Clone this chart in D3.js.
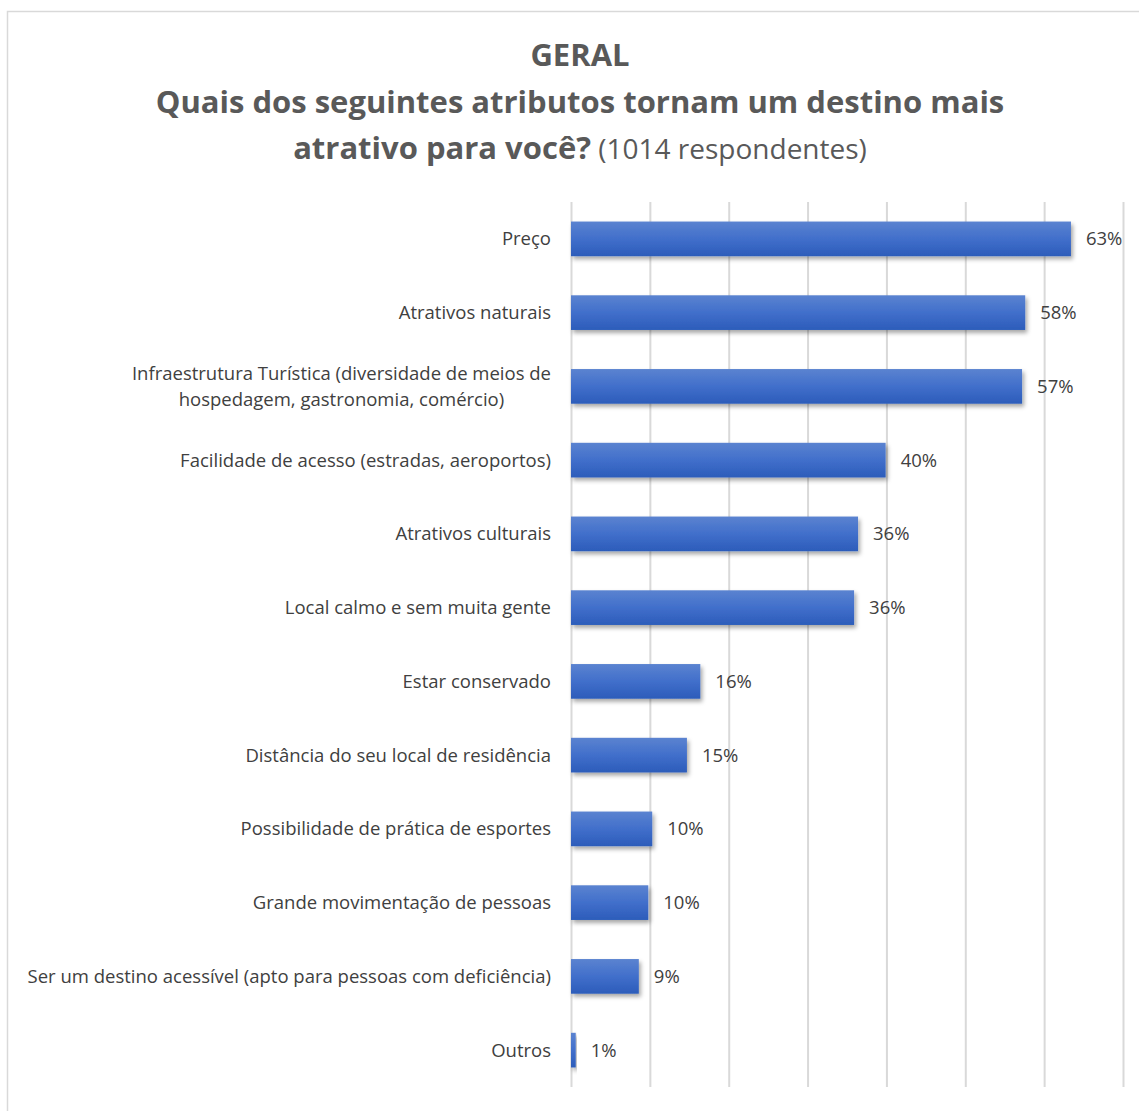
<!DOCTYPE html>
<html>
<head>
<meta charset="utf-8">
<script src="https://cdn.jsdelivr.net/npm/d3@7"></script>
<style>
  body { margin: 0; background: #fff; }
  svg { display: block; }
</style>
</head>
<body>
<div id="chart"></div>
<script>
// Data (shares of respondents).
const categories = [
    "Preço",
    "Atrativos naturais",
    "Infraestrutura Turística (diversidade de meios de|hospedagem, gastronomia, comércio)",
    "Facilidade de acesso (estradas, aeroportos)",
    "Atrativos culturais",
    "Local calmo e sem muita gente",
    "Estar conservado",
    "Distância do seu local de residência",
    "Possibilidade de prática de esportes",
    "Grande movimentação de pessoas",
    "Ser um destino acessível (apto para pessoas com deficiência)",
    "Outros"
];
const values = [0.634, 0.576, 0.572, 0.399, 0.364, 0.359, 0.164, 0.147, 0.103, 0.098, 0.086, 0.006];
const xTicks = [0, 0.1, 0.2, 0.3, 0.4, 0.5, 0.6, 0.7];
const titleLines = ["GERAL", "Quais dos seguintes atributos tornam um destino mais"];
const titleLast = ["atrativo para você?", " (1014 respondentes)"];

const W = 1139, H = 1111;
const font = "'Open Sans', 'Noto Sans', sans-serif";

let svg = d3.select("#chart")
    .append("svg")
    .attr("width", W)
    .attr("height", H);

// Bar gradient and shadow.
let defs = svg.append("defs");
let grad = defs.append("linearGradient")
    .attr("id", "barGrad")
    .attr("x1", 0).attr("y1", 0).attr("x2", 0).attr("y2", 1);
grad.append("stop").attr("offset", "0%").attr("stop-color", "#5b83d0");
grad.append("stop").attr("offset", "50%").attr("stop-color", "#416fcb");
grad.append("stop").attr("offset", "100%").attr("stop-color", "#2c5cba");

let shadow = defs.append("filter")
    .attr("id", "shadow")
    .attr("x", "-10%").attr("y", "-20%")
    .attr("width", "130%").attr("height", "160%");
shadow.append("feDropShadow")
    .attr("dx", 2).attr("dy", 3)
    .attr("stdDeviation", 2)
    .attr("flood-color", "#000")
    .attr("flood-opacity", 0.35);

// Chart frame.
svg.append("rect")
    .attr("x", 7.5).attr("y", 11.5)
    .attr("width", W + 20).attr("height", H + 20)
    .attr("fill", "#fff")
    .attr("stroke", "#d9d9d9")
    .attr("stroke-width", 1.5);

// Title.
let title = svg.append("text")
    .attr("text-anchor", "middle")
    .attr("fill", "#595959")
    .style("font-family", font)
    .style("font-weight", "bold");

title.append("tspan")
    .attr("x", 580).attr("y", 66)
    .style("font-size", "31px")
    .text(titleLines[0]);
title.append("tspan")
    .attr("x", 580).attr("y", 113)
    .style("font-size", "31px")
    .text(titleLines[1]);
let last = title.append("tspan")
    .attr("x", 580).attr("y", 159);
last.append("tspan")
    .style("font-size", "31px")
    .text(titleLast[0]);
last.append("tspan")
    .style("font-size", "28px")
    .style("font-weight", "normal")
    .text(titleLast[1]);

// Scales.
let x = d3.scaleLinear()
    .domain([0, 0.7])
    .range([571, 1123]);

let y = d3.scaleBand()
    .domain(categories)
    .range([202, 1087])
    .paddingInner(0.53)
    .paddingOuter(0.265);

// Gridlines.
svg.append("g")
    .attr("transform", "translate(0,1087)")
    .call(d3.axisBottom(x).tickValues(xTicks).tickSize(-(1087 - 202)).tickFormat(""))
    .call(g => g.select(".domain").remove())
    .call(g => g.selectAll(".tick line")
        .attr("stroke", "#d9d9d9")
        .attr("stroke-width", 2));

// Bars.
svg.append("g")
    .selectAll("rect")
    .data(categories)
    .enter().append("rect")
    .attr("x", x(0))
    .attr("y", d => y(d))
    .attr("width", (d, i) => x(values[i]) - x(0))
    .attr("height", y.bandwidth())
    .attr("fill", "url(#barGrad)")
    .attr("filter", "url(#shadow)");

// Value labels.
svg.append("g")
    .selectAll("text")
    .data(categories)
    .enter().append("text")
    .attr("x", (d, i) => x(values[i]) + 15)
    .attr("y", d => y(d) + y.bandwidth() / 2)
    .attr("dy", "0.35em")
    .attr("fill", "#404040")
    .style("font-family", font)
    .style("font-size", "18.5px")
    .text((d, i) => d3.format(".0%")(values[i]));

// Category labels, multi-line ones are centred as a block.
let labels = svg.append("g")
    .selectAll("text")
    .data(categories)
    .enter().append("text")
    .attr("fill", "#404040")
    .style("font-family", font)
    .style("font-size", "18.5px");

labels.each(function(d) {
    let t = d3.select(this);
    let lines = d.split("|");
    let cy = y(d) + y.bandwidth() / 2;
    let lh = 26;
    lines.forEach((line, k) => {
        t.append("tspan")
            .attr("y", cy + (k - (lines.length - 1) / 2) * lh)
            .attr("dy", "0.35em")
            .text(line);
    });
    if (lines.length === 1) {
        t.attr("text-anchor", "end").selectAll("tspan").attr("x", 551);
    } else {
        let maxW = d3.max(t.selectAll("tspan").nodes(), n => n.getComputedTextLength());
        t.attr("text-anchor", "middle").selectAll("tspan").attr("x", 551 - maxW / 2);
    }
});
</script>
</body>
</html>
